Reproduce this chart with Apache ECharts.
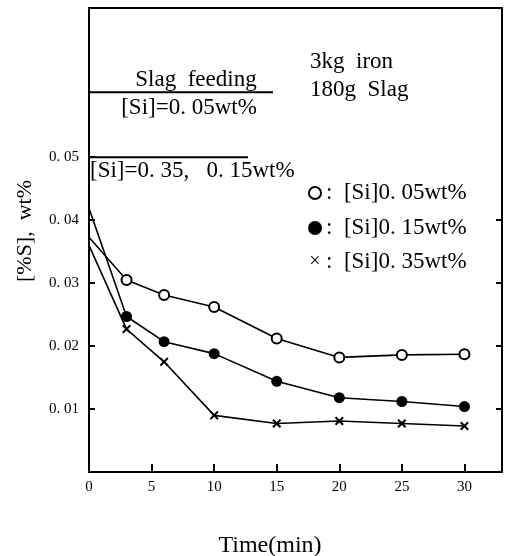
<!DOCTYPE html>
<html>
<head>
<meta charset="utf-8">
<script src="https://cdn.jsdelivr.net/npm/echarts@6/dist/echarts.min.js"></script>
<style>
  html, body { margin: 0; padding: 0; background: #fff; }
  #chart { width: 509px; height: 556px; }
</style>
</head>
<body>
<div id="chart"></div>
<script>
// Sampling times (min)
const times = [0, 3, 6, 10, 15, 20, 25, 30];
// Sulphur content of the iron, [%S] wt%
const sSi005 = [0.0373, 0.0305, 0.0281, 0.0262, 0.0212, 0.0182, 0.0186, 0.0187];
const sSi015 = [0.0419, 0.0247, 0.0207, 0.0188, 0.0144, 0.0118, 0.0112, 0.0104];
const sSi035 = [0.0360, 0.0227, 0.0175, 0.0090, 0.0077, 0.0081, 0.0077, 0.0073];
// Slag feeding amount markers: level and end time of each feeding bar
const feedLevels = [0.0603, 0.05];
const feedEnds = [14.7, 12.7];
// Axis ticks
const xTicks = [0, 5, 10, 15, 20, 25, 30];
const yTicks = [0.01, 0.02, 0.03, 0.04, 0.05];
const seriesNames = ['[Si]0. 05wt%', '[Si]0. 15wt%', '[Si]0. 35wt%'];

const FONT = '"Liberation Serif", "DejaVu Serif", serif';
// bold "x" marker
const CROSS = 'path://M0,1.6L1.6,0L5,3.4L8.4,0L10,1.6L6.6,5L10,8.4L8.4,10L5,6.6L1.6,10L0,8.4L3.4,5Z';

function toData(vals) {
  return times.map((t, i) => i === 0 ? { value: [t, vals[i]], symbol: 'none' } : [t, vals[i]]);
}

const chart = echarts.init(document.getElementById('chart'), null, { renderer: 'canvas' });

const lineStyle = { color: '#000', width: 1.6 };

const option = {
  backgroundColor: '#fff',
  animation: false,
  grid: {
    left: 89, right: 7, top: 8, bottom: 84,
    show: true, borderColor: '#000', borderWidth: 2, backgroundColor: 'transparent'
  },
  xAxis: {
    type: 'value', min: 0, max: 33,
    axisLine: { show: true, lineStyle: { color: '#000', width: 2 } },
    axisTick: { show: true, inside: true, length: 8, lineStyle: { color: '#000', width: 2 }, customValues: xTicks.slice(1) },
    axisLabel: { color: '#000', fontFamily: FONT, fontSize: 15, margin: 8, customValues: xTicks },
    splitLine: { show: false }
  },
  yAxis: [{
    type: 'value', min: 0, max: 0.0737,
    axisLine: { show: true, lineStyle: { color: '#000', width: 2 } },
    axisTick: { show: true, inside: true, length: 6, lineStyle: { color: '#000', width: 2 }, customValues: yTicks },
    axisLabel: {
      color: '#000', fontFamily: FONT, fontSize: 15, margin: 10, customValues: yTicks,
      formatter: v => v.toFixed(2).replace('.', '. ')
    },
    splitLine: { show: false }
  }, {
    type: 'value', min: 0, max: 0.0737, position: 'right',
    axisLine: { show: false },
    axisTick: { show: true, inside: true, length: 6, lineStyle: { color: '#000', width: 2 }, customValues: yTicks.slice(0, 4) },
    axisLabel: { show: false },
    splitLine: { show: false }
  }],
  series: [
    {
      name: seriesNames[0], type: 'line', data: toData(sSi005),
      symbol: 'emptyCircle', symbolSize: 10,
      itemStyle: { color: '#000', borderColor: '#000', borderWidth: 2 },
      lineStyle: lineStyle, z: 3
    },
    {
      name: seriesNames[1], type: 'line', data: toData(sSi015),
      symbol: 'circle', symbolSize: 11,
      itemStyle: { color: '#000' },
      lineStyle: lineStyle, z: 3
    },
    {
      name: seriesNames[2], type: 'line', data: toData(sSi035),
      symbol: CROSS, symbolSize: 9,
      itemStyle: { color: '#000' },
      lineStyle: lineStyle, z: 3
    },
    // slag feeding bars
    ...feedLevels.map((lv, i) => ({
      name: 'feed' + i, type: 'line', symbol: 'none',
      data: [[0, lv], [feedEnds[i], lv]],
      lineStyle: { color: '#000', width: 2 }, z: 2
    }))
  ],
  graphic: [
    { type: 'text', left: 310, top: 50, style: { text: '3kg  iron', font: '23px ' + FONT, fill: '#000' } },
    { type: 'text', left: 310, top: 78, style: { text: '180g  Slag', font: '23px ' + FONT, fill: '#000' } },
    { type: 'text', x: 196, y: 80, style: { text: 'Slag  feeding', font: '23px ' + FONT, fill: '#000', align: 'center', verticalAlign: 'middle' } },
    { type: 'text', x: 189, y: 108, style: { text: '[Si]=0. 05wt%', font: '23px ' + FONT, fill: '#000', align: 'center', verticalAlign: 'middle' } },
    { type: 'text', x: 90, y: 171, style: { text: '[Si]=0. 35,   0. 15wt%', font: '23px ' + FONT, fill: '#000', align: 'left', verticalAlign: 'middle' } },
    // legend
    { type: 'circle', shape: { cx: 315, cy: 193, r: 6 }, style: { fill: '#fff', stroke: '#000', lineWidth: 2 } },
    { type: 'circle', shape: { cx: 315, cy: 228, r: 7 }, style: { fill: '#000' } },
    { type: 'text', x: 315, y: 262, style: { text: '×', font: '20px ' + FONT, fill: '#000', align: 'center', verticalAlign: 'middle' } },
    { type: 'text', x: 326, y: 193, style: { text: ':  ' + seriesNames[0], font: '23px ' + FONT, fill: '#000', verticalAlign: 'middle' } },
    { type: 'text', x: 326, y: 228, style: { text: ':  ' + seriesNames[1], font: '23px ' + FONT, fill: '#000', verticalAlign: 'middle' } },
    { type: 'text', x: 326, y: 262, style: { text: ':  ' + seriesNames[2], font: '23px ' + FONT, fill: '#000', verticalAlign: 'middle' } },
    // axis titles
    { type: 'text', x: 25, y: 231, rotation: Math.PI / 2, style: { text: '[%S],  wt%', font: '22px ' + FONT, fill: '#000', align: 'center', verticalAlign: 'middle' } },
    { type: 'text', x: 270, y: 546, style: { text: 'Time(min)', font: '24px ' + FONT, fill: '#000', align: 'center', verticalAlign: 'middle' } }
  ]
};

chart.setOption(option);
</script>
</body>
</html>
